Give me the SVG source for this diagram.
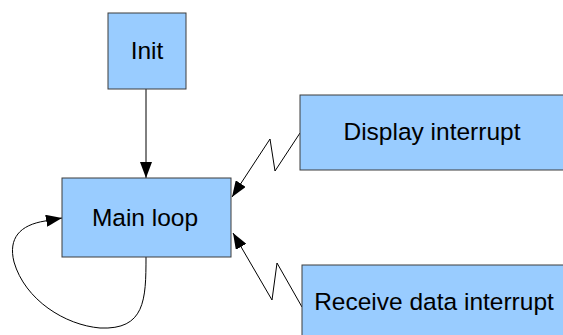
<svg xmlns="http://www.w3.org/2000/svg" width="563" height="335" viewBox="0 0 563 335">
<style>
.box{fill:#99ccff;stroke:#3c3c3c;stroke-width:1}
.lbl{font-family:"Liberation Sans",Arial,sans-serif;font-size:24.5px;fill:#000;text-anchor:middle}
.edge{fill:none;stroke:#000;stroke-width:1}
</style>
<defs>
<marker id="ah" viewBox="0 0 16 12" refX="16" refY="6" markerWidth="16" markerHeight="12" markerUnits="userSpaceOnUse" orient="auto">
<path d="M0,0 L16,6 L0,12 Z" fill="#000"/>
</marker>
</defs>
<rect width="563" height="335" fill="#fff"/>
<g id="connectors">
<path class="edge" d="M146,89 L146,178" marker-end="url(#ah)"/>
<path class="edge" d="M300,133 L275,171 L270,139 L232,197" marker-end="url(#ah)"/>
<path class="edge" d="M302,307 L277,263 L272,300 L233,233" marker-end="url(#ah)"/>
<path class="edge" d="M146,257 C146,300 145,330 100,328 C65,325 25,300 14,262 C8,238 20,225 45,221 L62,218" marker-end="url(#ah)"/>
</g>
<g id="init">
<rect class="box" x="108" y="13" width="78" height="76"/>
<text class="lbl" x="147" y="59">Init</text>
</g>
<g id="main">
<rect class="box" x="62" y="178" width="169" height="79"/>
<text class="lbl" x="145" y="226">Main loop</text>
</g>
<g id="display">
<rect class="box" x="300" y="95" width="270" height="75"/>
<text class="lbl" x="432" y="140">Display interrupt</text>
</g>
<g id="receive">
<rect class="box" x="302" y="265" width="270" height="80"/>
<text class="lbl" x="434" y="310">Receive data interrupt</text>
</g>
</svg>
